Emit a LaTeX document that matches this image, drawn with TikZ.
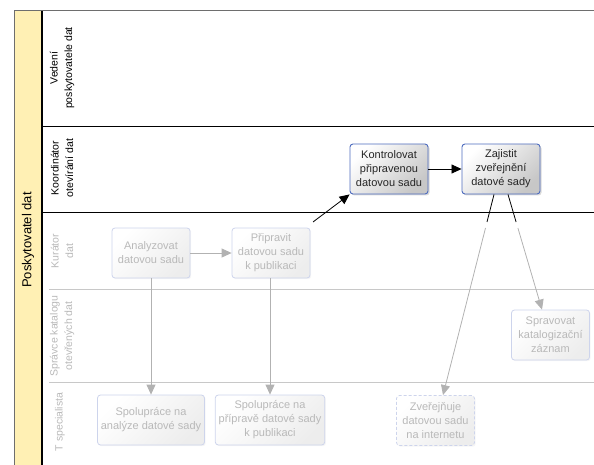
\documentclass[tikz,border=0pt]{standalone}
\usepackage{fontspec}
\setmainfont{Liberation Sans}
\usetikzlibrary{shadows,arrows.meta,calc}
\definecolor{laneyellow}{RGB}{255,240,180}
\definecolor{activeblue}{RGB}{78,108,190}
\definecolor{fadeborder}{RGB}{205,212,236}
\definecolor{fadefill}{RGB}{246,246,248}
\definecolor{fadetext}{RGB}{185,185,185}
\definecolor{fadeline}{RGB}{178,178,178}
\definecolor{framegray}{RGB}{110,110,110}
\definecolor{lanegray}{RGB}{200,200,200}
\tikzset{
  taskbox/.style={draw=activeblue, line width=0.9pt, rounded corners=3pt,
    top color=white, bottom color=black!22, shading angle=45,
    minimum width=78pt, minimum height=50pt, align=center,
    font=\fontsize{11}{14}\selectfont, text=black!85,
    drop shadow={shadow xshift=1.5pt, shadow yshift=-1.5pt, opacity=0.3}},
  fadebox/.style={draw=fadeborder, line width=0.8pt, rounded corners=3pt,
    top color=white, bottom color=black!7, shading angle=45,
    minimum width=78pt, minimum height=50pt, align=center,
    font=\fontsize{11}{14}\selectfont, text=fadetext,
    drop shadow={shadow xshift=1.2pt, shadow yshift=-1.2pt, opacity=0.08}},
  lanelabel/.style={rotate=90, align=center, font=\fontsize{10.5}{14.5}\selectfont},
  flow/.style={line width=0.8pt, -{Triangle[length=10pt,width=9pt]}},
  fadeflow/.style={draw=fadeline, line width=0.8pt, -{Triangle[length=10pt,width=9pt]}},
}
\begin{document}
\begin{tikzpicture}[x=1pt,y=-1pt]
\useasboundingbox (0,0) rectangle (594,465);
% pool
\fill[laneyellow] (14,11) rectangle (42,465);
\draw[framegray, line width=1pt] (14,465) -- (14,11) -- (594,11);
\draw[black, line width=1.2pt] (42,11) -- (42,465);
\node[rotate=90, font=\fontsize{13}{15}\selectfont] (pool) at (28,240) {Poskytovatel dat};
% lane separators
\draw[black, line width=1pt] (42,126.5) -- (594,126.5);
\draw[black, line width=1pt] (42,212.5) -- (594,212.5);
\draw[lanegray, line width=1pt] (49,289) -- (594,289);
\draw[lanegray, line width=1pt] (49,382) -- (594,382);
% lane labels
\node[lanelabel] (l1) at (62,68) {Vedení\\poskytovatele dat};
\node[lanelabel] (l2) at (62,168) {Koordinátor\\otevírání dat};
\node[lanelabel, text=fadetext] (l3) at (62,251) {Kurátor\\dat};
\node[lanelabel, text=fadetext] (l4) at (62,336) {Správce katalogu\\otevřených dat};
\node[lanelabel, text=fadetext] (l5) at (60,422) {T specialista};
% active tasks
\node[taskbox] (kontr) at (389,169) {Kontrolovat\\připravenou\\datovou sadu};
\node[taskbox] (zaj) at (501,169) {Zajistit\\zveřejnění\\datové sady};
% faded tasks
\node[fadebox] (anal) at (151,253) {Analyzovat\\datovou sadu};
\node[fadebox] (prip) at (271,253) {Připravit\\datovou sadu\\k publikaci};
\node[fadebox, minimum width=106pt] (spol1) at (151,420) {Spolupráce na\\analýze datové sady};
\node[fadebox, minimum width=106pt] (spol2) at (270,420) {Spolupráce na\\přípravě datové sady\\k publikaci};
\node[fadebox, dashed, dash pattern=on 3pt off 2pt] (zver) at (435.5,420.5) {Zveřejňuje\\datovou sadu\\na internetu};
\node[fadebox] (sprav) at (550.5,335) {Spravovat\\katalogizační\\záznam};
% faded connectors
\draw[fadeflow] (anal) -- (prip);
\draw[fadeflow] (anal.south) -- (anal.south |- spol1.north);
\draw[fadeflow] (prip.south -| spol2.north) -- (spol2.north);
% active connectors
\coordinate (p0) at (313,222);
\draw[flow] (p0) -- (kontr.south west);
\draw[flow] (kontr) -- (zaj);
% connectors leaving Zajistit (black inside its lane, faded beyond)
\coordinate (z1s) at ($(zaj.south)+(-7,0)$);
\coordinate (z2s) at ($(zaj.south)+(7,0)$);
\coordinate (z1m) at (487,222);
\coordinate (z1f) at (485.5,228);
\coordinate (z2m) at (516.1,222);
\coordinate (z2f) at (517.9,228);
\coordinate (z1e) at ($(zver.north)+(7.5,0)$);
\coordinate (z2e) at ($(sprav.north)+(-8.5,0)$);
\draw[line width=0.8pt] (z1s) -- (z1m);
\draw[line width=0.8pt] (z2s) -- (z2m);
\draw[fadeflow] (z1f) -- (z1e);
\draw[fadeflow] (z2f) -- (z2e);
\end{tikzpicture}
\end{document}
